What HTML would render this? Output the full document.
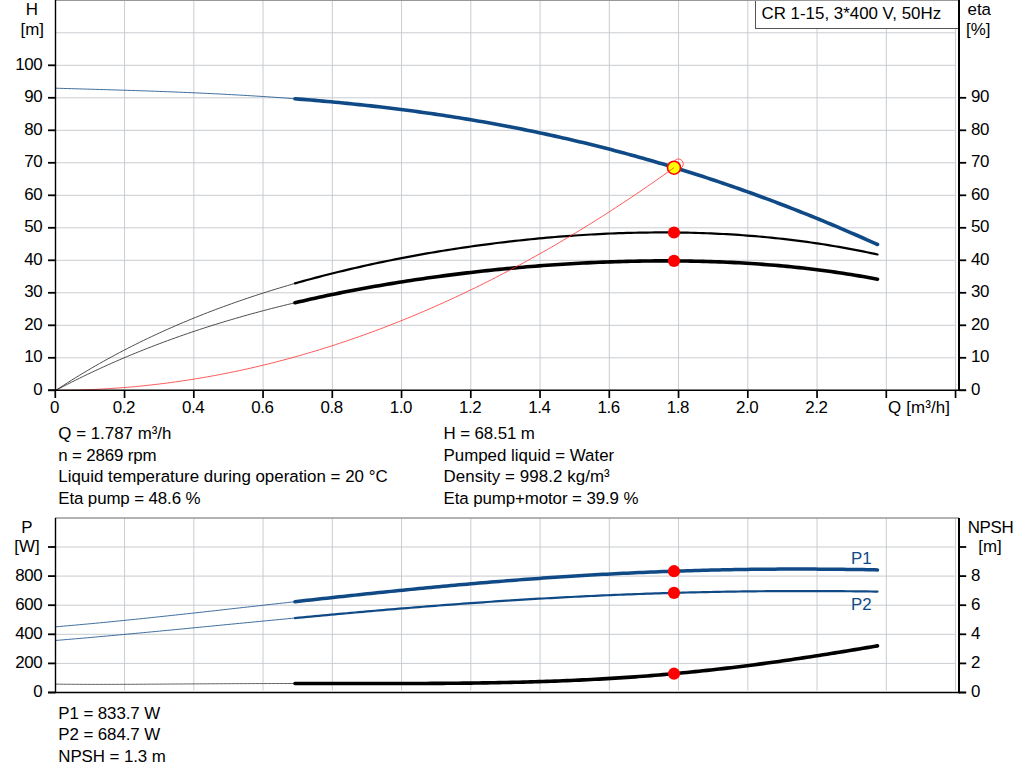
<!DOCTYPE html>
<html><head><meta charset="utf-8"><title>Pump curve</title>
<style>
html,body{margin:0;padding:0;background:#fff;}
body{width:1024px;height:781px;overflow:hidden;font-family:"Liberation Sans",sans-serif;}
svg{display:block;position:absolute;left:0;top:0;}
svg text{font-family:"Liberation Sans",sans-serif;font-size:16.9px;}
svg text.n{letter-spacing:-0.4px;}
</style></head>
<body>
<svg width="1024" height="781" viewBox="0 0 1024 781">
<line x1="124.55" y1="0" x2="124.55" y2="390" stroke="#c9ccd0" stroke-width="1"/>
<line x1="193.8" y1="0" x2="193.8" y2="390" stroke="#c9ccd0" stroke-width="1"/>
<line x1="263.05" y1="0" x2="263.05" y2="390" stroke="#c9ccd0" stroke-width="1"/>
<line x1="332.3" y1="0" x2="332.3" y2="390" stroke="#c9ccd0" stroke-width="1"/>
<line x1="401.55" y1="0" x2="401.55" y2="390" stroke="#c9ccd0" stroke-width="1"/>
<line x1="470.8" y1="0" x2="470.8" y2="390" stroke="#c9ccd0" stroke-width="1"/>
<line x1="540.05" y1="0" x2="540.05" y2="390" stroke="#c9ccd0" stroke-width="1"/>
<line x1="609.3" y1="0" x2="609.3" y2="390" stroke="#c9ccd0" stroke-width="1"/>
<line x1="678.55" y1="0" x2="678.55" y2="390" stroke="#c9ccd0" stroke-width="1"/>
<line x1="747.8" y1="0" x2="747.8" y2="390" stroke="#c9ccd0" stroke-width="1"/>
<line x1="817.05" y1="0" x2="817.05" y2="390" stroke="#c9ccd0" stroke-width="1"/>
<line x1="886.3" y1="0" x2="886.3" y2="390" stroke="#c9ccd0" stroke-width="1"/>
<line x1="955.55" y1="0" x2="955.55" y2="390" stroke="#c9ccd0" stroke-width="1"/>
<line x1="56" y1="357.8" x2="956" y2="357.8" stroke="#c9ccd0" stroke-width="1"/>
<line x1="56" y1="325.3" x2="956" y2="325.3" stroke="#c9ccd0" stroke-width="1"/>
<line x1="56" y1="292.8" x2="956" y2="292.8" stroke="#c9ccd0" stroke-width="1"/>
<line x1="56" y1="260.3" x2="956" y2="260.3" stroke="#c9ccd0" stroke-width="1"/>
<line x1="56" y1="227.8" x2="956" y2="227.8" stroke="#c9ccd0" stroke-width="1"/>
<line x1="56" y1="195.3" x2="956" y2="195.3" stroke="#c9ccd0" stroke-width="1"/>
<line x1="56" y1="162.8" x2="956" y2="162.8" stroke="#c9ccd0" stroke-width="1"/>
<line x1="56" y1="130.3" x2="956" y2="130.3" stroke="#c9ccd0" stroke-width="1"/>
<line x1="56" y1="97.8" x2="956" y2="97.8" stroke="#c9ccd0" stroke-width="1"/>
<line x1="56" y1="65.3" x2="956" y2="65.3" stroke="#c9ccd0" stroke-width="1"/>
<line x1="56" y1="32.8" x2="956" y2="32.8" stroke="#c9ccd0" stroke-width="1"/>
<path d="M55.3 88.20 L59.3 88.31 L63.3 88.43 L67.3 88.54 L71.3 88.65 L75.3 88.77 L79.3 88.88 L83.3 89.00 L87.3 89.11 L91.3 89.23 L95.3 89.35 L99.3 89.46 L103.3 89.58 L107.3 89.70 L111.3 89.82 L115.3 89.94 L119.3 90.07 L123.3 90.19 L127.3 90.32 L131.3 90.45 L135.3 90.58 L139.3 90.71 L143.3 90.84 L147.3 90.98 L151.3 91.12 L155.3 91.26 L159.3 91.41 L163.3 91.56 L167.3 91.71 L171.3 91.86 L175.3 92.02 L179.3 92.18 L183.3 92.35 L187.3 92.51 L191.3 92.69 L195.3 92.86 L199.3 93.04 L203.3 93.22 L207.3 93.41 L211.3 93.60 L215.3 93.80 L219.3 94.00 L223.3 94.20 L227.3 94.41 L231.3 94.63 L235.3 94.85 L239.3 95.07 L243.3 95.30 L247.3 95.54 L251.3 95.78 L255.3 96.02 L259.3 96.27 L263.3 96.53 L267.3 96.79 L271.3 97.06 L275.3 97.34 L279.3 97.62 L283.3 97.90 L287.3 98.20 L291.3 98.49 L295.0 98.78" fill="none" stroke="#104a86" stroke-width="0.8"/>
<path d="M295.0 98.78 L299.0 99.09 L303.0 99.41 L307.0 99.73 L311.0 100.06 L315.0 100.40 L319.0 100.75 L323.0 101.10 L327.0 101.46 L331.0 101.82 L335.0 102.20 L339.0 102.58 L343.0 102.97 L347.0 103.36 L351.0 103.77 L355.0 104.18 L359.0 104.60 L363.0 105.02 L367.0 105.46 L371.0 105.90 L375.0 106.35 L379.0 106.81 L383.0 107.28 L387.0 107.76 L391.0 108.24 L395.0 108.73 L399.0 109.23 L403.0 109.74 L407.0 110.26 L411.0 110.79 L415.0 111.33 L419.0 111.87 L423.0 112.43 L427.0 112.99 L431.0 113.56 L435.0 114.14 L439.0 114.73 L443.0 115.33 L447.0 115.94 L451.0 116.56 L455.0 117.19 L459.0 117.83 L463.0 118.47 L467.0 119.13 L471.0 119.80 L475.0 120.47 L479.0 121.16 L483.0 121.85 L487.0 122.56 L491.0 123.27 L495.0 124.00 L499.0 124.74 L503.0 125.48 L507.0 126.24 L511.0 127.00 L515.0 127.78 L519.0 128.57 L523.0 129.37 L527.0 130.17 L531.0 130.99 L535.0 131.82 L539.0 132.66 L543.0 133.51 L547.0 134.37 L551.0 135.24 L555.0 136.12 L559.0 137.02 L563.0 137.92 L567.0 138.83 L571.0 139.76 L575.0 140.69 L579.0 141.64 L583.0 142.60 L587.0 143.57 L591.0 144.55 L595.0 145.54 L599.0 146.54 L603.0 147.55 L607.0 148.58 L611.0 149.61 L615.0 150.66 L619.0 151.72 L623.0 152.79 L627.0 153.87 L631.0 154.96 L635.0 156.06 L639.0 157.18 L643.0 158.30 L647.0 159.44 L651.0 160.59 L655.0 161.75 L659.0 162.92 L663.0 164.10 L667.0 165.30 L671.0 166.50 L675.0 167.72 L679.0 168.95 L683.0 170.19 L687.0 171.44 L691.0 172.71 L695.0 173.98 L699.0 175.27 L703.0 176.57 L707.0 177.88 L711.0 179.20 L715.0 180.53 L719.0 181.88 L723.0 183.23 L727.0 184.60 L731.0 185.98 L735.0 187.37 L739.0 188.78 L743.0 190.19 L747.0 191.62 L751.0 193.06 L755.0 194.51 L759.0 195.97 L763.0 197.44 L767.0 198.93 L771.0 200.42 L775.0 201.93 L779.0 203.45 L783.0 204.98 L787.0 206.52 L791.0 208.08 L795.0 209.64 L799.0 211.22 L803.0 212.81 L807.0 214.41 L811.0 216.02 L815.0 217.65 L819.0 219.28 L823.0 220.93 L827.0 222.59 L831.0 224.26 L835.0 225.94 L839.0 227.63 L843.0 229.34 L847.0 231.05 L851.0 232.78 L855.0 234.52 L859.0 236.26 L863.0 238.02 L867.0 239.80 L871.0 241.58 L875.0 243.37 L877.5 244.50" fill="none" stroke="#104a86" stroke-width="3.6" stroke-linecap="round"/>
<path d="M55.3 390.66 L59.3 388.03 L63.3 385.44 L67.3 382.88 L71.3 380.35 L75.3 377.87 L79.3 375.41 L83.3 373.00 L87.3 370.61 L91.3 368.26 L95.3 365.95 L99.3 363.66 L103.3 361.41 L107.3 359.19 L111.3 357.00 L115.3 354.84 L119.3 352.71 L123.3 350.62 L127.3 348.55 L131.3 346.51 L135.3 344.50 L139.3 342.51 L143.3 340.56 L147.3 338.63 L151.3 336.73 L155.3 334.86 L159.3 333.01 L163.3 331.19 L167.3 329.39 L171.3 327.62 L175.3 325.87 L179.3 324.15 L183.3 322.45 L187.3 320.77 L191.3 319.12 L195.3 317.49 L199.3 315.89 L203.3 314.30 L207.3 312.74 L211.3 311.20 L215.3 309.68 L219.3 308.18 L223.3 306.70 L227.3 305.25 L231.3 303.81 L235.3 302.39 L239.3 300.99 L243.3 299.62 L247.3 298.26 L251.3 296.92 L255.3 295.59 L259.3 294.29 L263.3 293.00 L267.3 291.74 L271.3 290.48 L275.3 289.25 L279.3 288.04 L283.3 286.84 L287.3 285.65 L291.3 284.49 L295.0 283.42" fill="none" stroke="#222" stroke-width="0.8"/>
<path d="M295.0 283.42 L299.0 282.29 L303.0 281.17 L307.0 280.06 L311.0 278.98 L315.0 277.90 L319.0 276.85 L323.0 275.80 L327.0 274.77 L331.0 273.76 L335.0 272.76 L339.0 271.78 L343.0 270.81 L347.0 269.85 L351.0 268.91 L355.0 267.98 L359.0 267.06 L363.0 266.16 L367.0 265.27 L371.0 264.39 L375.0 263.53 L379.0 262.68 L383.0 261.84 L387.0 261.02 L391.0 260.21 L395.0 259.41 L399.0 258.62 L403.0 257.84 L407.0 257.08 L411.0 256.33 L415.0 255.59 L419.0 254.87 L423.0 254.15 L427.0 253.45 L431.0 252.76 L435.0 252.08 L439.0 251.41 L443.0 250.76 L447.0 250.11 L451.0 249.48 L455.0 248.86 L459.0 248.25 L463.0 247.65 L467.0 247.07 L471.0 246.49 L475.0 245.93 L479.0 245.38 L483.0 244.83 L487.0 244.30 L491.0 243.79 L495.0 243.28 L499.0 242.78 L503.0 242.30 L507.0 241.82 L511.0 241.36 L515.0 240.91 L519.0 240.47 L523.0 240.04 L527.0 239.62 L531.0 239.22 L535.0 238.82 L539.0 238.44 L543.0 238.07 L547.0 237.71 L551.0 237.36 L555.0 237.02 L559.0 236.70 L563.0 236.38 L567.0 236.08 L571.0 235.79 L575.0 235.51 L579.0 235.24 L583.0 234.98 L587.0 234.74 L591.0 234.51 L595.0 234.29 L599.0 234.08 L603.0 233.88 L607.0 233.70 L611.0 233.52 L615.0 233.36 L619.0 233.22 L623.0 233.08 L627.0 232.96 L631.0 232.85 L635.0 232.75 L639.0 232.67 L643.0 232.59 L647.0 232.54 L651.0 232.49 L655.0 232.46 L659.0 232.44 L663.0 232.43 L667.0 232.44 L671.0 232.46 L675.0 232.49 L679.0 232.54 L683.0 232.60 L687.0 232.67 L691.0 232.76 L695.0 232.87 L699.0 232.98 L703.0 233.11 L707.0 233.26 L711.0 233.42 L715.0 233.60 L719.0 233.78 L723.0 233.99 L727.0 234.21 L731.0 234.44 L735.0 234.69 L739.0 234.96 L743.0 235.24 L747.0 235.53 L751.0 235.84 L755.0 236.17 L759.0 236.51 L763.0 236.87 L767.0 237.25 L771.0 237.64 L775.0 238.04 L779.0 238.47 L783.0 238.91 L787.0 239.37 L791.0 239.84 L795.0 240.33 L799.0 240.84 L803.0 241.37 L807.0 241.91 L811.0 242.47 L815.0 243.05 L819.0 243.65 L823.0 244.26 L827.0 244.89 L831.0 245.54 L835.0 246.21 L839.0 246.90 L843.0 247.60 L847.0 248.33 L851.0 249.07 L855.0 249.83 L859.0 250.62 L863.0 251.42 L867.0 252.24 L871.0 253.08 L875.0 253.94 L877.5 254.48" fill="none" stroke="#000" stroke-width="2.2" stroke-linecap="round"/>
<path d="M55.3 390.61 L59.3 388.50 L63.3 386.41 L67.3 384.35 L71.3 382.31 L75.3 380.31 L79.3 378.33 L83.3 376.37 L87.3 374.44 L91.3 372.54 L95.3 370.66 L99.3 368.80 L103.3 366.97 L107.3 365.16 L111.3 363.38 L115.3 361.62 L119.3 359.88 L123.3 358.17 L127.3 356.48 L131.3 354.81 L135.3 353.17 L139.3 351.54 L143.3 349.94 L147.3 348.36 L151.3 346.80 L155.3 345.26 L159.3 343.74 L163.3 342.24 L167.3 340.76 L171.3 339.30 L175.3 337.86 L179.3 336.44 L183.3 335.04 L187.3 333.66 L191.3 332.29 L195.3 330.95 L199.3 329.62 L203.3 328.31 L207.3 327.02 L211.3 325.74 L215.3 324.49 L219.3 323.25 L223.3 322.03 L227.3 320.82 L231.3 319.63 L235.3 318.46 L239.3 317.30 L243.3 316.16 L247.3 315.03 L251.3 313.92 L255.3 312.83 L259.3 311.75 L263.3 310.68 L267.3 309.63 L271.3 308.60 L275.3 307.58 L279.3 306.57 L283.3 305.58 L287.3 304.60 L291.3 303.63 L295.0 302.75" fill="none" stroke="#222" stroke-width="0.8"/>
<path d="M295.0 302.75 L299.0 301.81 L303.0 300.89 L307.0 299.97 L311.0 299.07 L315.0 298.19 L319.0 297.31 L323.0 296.45 L327.0 295.60 L331.0 294.77 L335.0 293.94 L339.0 293.13 L343.0 292.33 L347.0 291.54 L351.0 290.77 L355.0 290.00 L359.0 289.25 L363.0 288.50 L367.0 287.77 L371.0 287.05 L375.0 286.34 L379.0 285.65 L383.0 284.96 L387.0 284.28 L391.0 283.62 L395.0 282.96 L399.0 282.32 L403.0 281.68 L407.0 281.06 L411.0 280.44 L415.0 279.84 L419.0 279.25 L423.0 278.66 L427.0 278.09 L431.0 277.53 L435.0 276.97 L439.0 276.43 L443.0 275.89 L447.0 275.37 L451.0 274.85 L455.0 274.35 L459.0 273.85 L463.0 273.36 L467.0 272.89 L471.0 272.42 L475.0 271.96 L479.0 271.51 L483.0 271.07 L487.0 270.64 L491.0 270.22 L495.0 269.80 L499.0 269.40 L503.0 269.01 L507.0 268.62 L511.0 268.25 L515.0 267.88 L519.0 267.52 L523.0 267.17 L527.0 266.83 L531.0 266.50 L535.0 266.18 L539.0 265.87 L543.0 265.57 L547.0 265.27 L551.0 264.99 L555.0 264.71 L559.0 264.45 L563.0 264.19 L567.0 263.94 L571.0 263.70 L575.0 263.47 L579.0 263.25 L583.0 263.04 L587.0 262.84 L591.0 262.65 L595.0 262.47 L599.0 262.30 L603.0 262.13 L607.0 261.98 L611.0 261.84 L615.0 261.70 L619.0 261.58 L623.0 261.46 L627.0 261.36 L631.0 261.27 L635.0 261.18 L639.0 261.11 L643.0 261.04 L647.0 260.99 L651.0 260.95 L655.0 260.92 L659.0 260.89 L663.0 260.88 L667.0 260.88 L671.0 260.89 L675.0 260.91 L679.0 260.94 L683.0 260.99 L687.0 261.04 L691.0 261.11 L695.0 261.18 L699.0 261.27 L703.0 261.37 L707.0 261.49 L711.0 261.61 L715.0 261.75 L719.0 261.89 L723.0 262.05 L727.0 262.23 L731.0 262.41 L735.0 262.61 L739.0 262.82 L743.0 263.04 L747.0 263.28 L751.0 263.53 L755.0 263.79 L759.0 264.07 L763.0 264.36 L767.0 264.67 L771.0 264.98 L775.0 265.32 L779.0 265.66 L783.0 266.03 L787.0 266.40 L791.0 266.79 L795.0 267.20 L799.0 267.62 L803.0 268.05 L807.0 268.51 L811.0 268.97 L815.0 269.46 L819.0 269.96 L823.0 270.47 L827.0 271.00 L831.0 271.55 L835.0 272.12 L839.0 272.70 L843.0 273.30 L847.0 273.92 L851.0 274.55 L855.0 275.20 L859.0 275.88 L863.0 276.56 L867.0 277.27 L871.0 278.00 L875.0 278.74 L877.5 279.22" fill="none" stroke="#000" stroke-width="3.6" stroke-linecap="round"/>
<circle cx="678.4" cy="163.9" r="4.9" fill="none" stroke="#ff3030" stroke-width="0.8"/>
<circle cx="674.0" cy="167.7" r="6.5" fill="#ffff00" stroke="#ff0000" stroke-width="1.6"/>
<circle cx="674.0" cy="232.5" r="6.1" fill="#ff0000"/>
<circle cx="674.0" cy="260.9" r="6.1" fill="#ff0000"/>
<path d="M55.3 390.30 L59.3 390.29 L63.3 390.26 L67.3 390.22 L71.3 390.15 L75.3 390.07 L79.3 389.97 L83.3 389.84 L87.3 389.70 L91.3 389.55 L95.3 389.37 L99.3 389.17 L103.3 388.96 L107.3 388.73 L111.3 388.48 L115.3 388.21 L119.3 387.92 L123.3 387.61 L127.3 387.29 L131.3 386.94 L135.3 386.58 L139.3 386.20 L143.3 385.80 L147.3 385.38 L151.3 384.94 L155.3 384.48 L159.3 384.01 L163.3 383.52 L167.3 383.00 L171.3 382.47 L175.3 381.93 L179.3 381.36 L183.3 380.77 L187.3 380.17 L191.3 379.54 L195.3 378.90 L199.3 378.24 L203.3 377.56 L207.3 376.86 L211.3 376.15 L215.3 375.41 L219.3 374.66 L223.3 373.89 L227.3 373.09 L231.3 372.29 L235.3 371.46 L239.3 370.61 L243.3 369.74 L247.3 368.86 L251.3 367.96 L255.3 367.04 L259.3 366.10 L263.3 365.14 L267.3 364.16 L271.3 363.17 L275.3 362.15 L279.3 361.12 L283.3 360.07 L287.3 359.00 L291.3 357.91 L295.3 356.80 L299.3 355.68 L303.3 354.53 L307.3 353.37 L311.3 352.19 L315.3 350.99 L319.3 349.77 L323.3 348.53 L327.3 347.27 L331.3 346.00 L335.3 344.70 L339.3 343.39 L343.3 342.06 L347.3 340.71 L351.3 339.34 L355.3 337.96 L359.3 336.55 L363.3 335.13 L367.3 333.69 L371.3 332.23 L375.3 330.75 L379.3 329.25 L383.3 327.73 L387.3 326.20 L391.3 324.64 L395.3 323.07 L399.3 321.48 L403.3 319.87 L407.3 318.24 L411.3 316.59 L415.3 314.93 L419.3 313.24 L423.3 311.54 L427.3 309.82 L431.3 308.08 L435.3 306.32 L439.3 304.54 L443.3 302.75 L447.3 300.93 L451.3 299.10 L455.3 297.25 L459.3 295.38 L463.3 293.49 L467.3 291.58 L471.3 289.65 L475.3 287.71 L479.3 285.75 L483.3 283.76 L487.3 281.76 L491.3 279.74 L495.3 277.71 L499.3 275.65 L503.3 273.57 L507.3 271.48 L511.3 269.37 L515.3 267.24 L519.3 265.09 L523.3 262.92 L527.3 260.73 L531.3 258.53 L535.3 256.30 L539.3 254.06 L543.3 251.80 L547.3 249.52 L551.3 247.22 L555.3 244.91 L559.3 242.57 L563.3 240.22 L567.3 237.84 L571.3 235.45 L575.3 233.04 L579.3 230.61 L583.3 228.17 L587.3 225.70 L591.3 223.21 L595.3 220.71 L599.3 218.19 L603.3 215.65 L607.3 213.09 L611.3 210.51 L615.3 207.92 L619.3 205.30 L623.3 202.67 L627.3 200.02 L631.3 197.35 L635.3 194.66 L639.3 191.95 L643.3 189.22 L647.3 186.48 L651.3 183.71 L655.3 180.93 L659.3 178.13 L663.3 175.31 L667.3 172.47 L671.3 169.62 L674.0 167.64" fill="none" stroke="#ff3030" stroke-width="0.8"/>
<rect x="755.5" y="-1" width="203" height="29.5" fill="#fff" stroke="#555" stroke-width="1"/>
<line x1="55" y1="0.5" x2="959" y2="0.5" stroke="#999" stroke-width="1"/>
<line x1="55.5" y1="0" x2="55.5" y2="391" stroke="#000" stroke-width="1.4"/>
<line x1="959" y1="0" x2="959" y2="391" stroke="#000" stroke-width="2"/>
<line x1="48" y1="390.3" x2="966" y2="390.3" stroke="#000" stroke-width="1.4"/>
<line x1="48" y1="390.3" x2="55" y2="390.3" stroke="#000" stroke-width="1.8"/>
<line x1="48" y1="357.8" x2="55" y2="357.8" stroke="#000" stroke-width="1.8"/>
<line x1="48" y1="325.3" x2="55" y2="325.3" stroke="#000" stroke-width="1.8"/>
<line x1="48" y1="292.8" x2="55" y2="292.8" stroke="#000" stroke-width="1.8"/>
<line x1="48" y1="260.3" x2="55" y2="260.3" stroke="#000" stroke-width="1.8"/>
<line x1="48" y1="227.8" x2="55" y2="227.8" stroke="#000" stroke-width="1.8"/>
<line x1="48" y1="195.3" x2="55" y2="195.3" stroke="#000" stroke-width="1.8"/>
<line x1="48" y1="162.8" x2="55" y2="162.8" stroke="#000" stroke-width="1.8"/>
<line x1="48" y1="130.3" x2="55" y2="130.3" stroke="#000" stroke-width="1.8"/>
<line x1="48" y1="97.8" x2="55" y2="97.8" stroke="#000" stroke-width="1.8"/>
<line x1="48" y1="65.3" x2="55" y2="65.3" stroke="#000" stroke-width="1.8"/>
<line x1="959" y1="390.3" x2="966.2" y2="390.3" stroke="#000" stroke-width="1.8"/>
<line x1="959" y1="357.8" x2="966.2" y2="357.8" stroke="#000" stroke-width="1.8"/>
<line x1="959" y1="325.3" x2="966.2" y2="325.3" stroke="#000" stroke-width="1.8"/>
<line x1="959" y1="292.8" x2="966.2" y2="292.8" stroke="#000" stroke-width="1.8"/>
<line x1="959" y1="260.3" x2="966.2" y2="260.3" stroke="#000" stroke-width="1.8"/>
<line x1="959" y1="227.8" x2="966.2" y2="227.8" stroke="#000" stroke-width="1.8"/>
<line x1="959" y1="195.3" x2="966.2" y2="195.3" stroke="#000" stroke-width="1.8"/>
<line x1="959" y1="162.8" x2="966.2" y2="162.8" stroke="#000" stroke-width="1.8"/>
<line x1="959" y1="130.3" x2="966.2" y2="130.3" stroke="#000" stroke-width="1.8"/>
<line x1="959" y1="97.8" x2="966.2" y2="97.8" stroke="#000" stroke-width="1.8"/>
<line x1="55.3" y1="390" x2="55.3" y2="398" stroke="#000" stroke-width="1.7"/>
<line x1="124.55" y1="390" x2="124.55" y2="398" stroke="#000" stroke-width="1.7"/>
<line x1="193.8" y1="390" x2="193.8" y2="398" stroke="#000" stroke-width="1.7"/>
<line x1="263.05" y1="390" x2="263.05" y2="398" stroke="#000" stroke-width="1.7"/>
<line x1="332.3" y1="390" x2="332.3" y2="398" stroke="#000" stroke-width="1.7"/>
<line x1="401.55" y1="390" x2="401.55" y2="398" stroke="#000" stroke-width="1.7"/>
<line x1="470.8" y1="390" x2="470.8" y2="398" stroke="#000" stroke-width="1.7"/>
<line x1="540.05" y1="390" x2="540.05" y2="398" stroke="#000" stroke-width="1.7"/>
<line x1="609.3" y1="390" x2="609.3" y2="398" stroke="#000" stroke-width="1.7"/>
<line x1="678.55" y1="390" x2="678.55" y2="398" stroke="#000" stroke-width="1.7"/>
<line x1="747.8" y1="390" x2="747.8" y2="398" stroke="#000" stroke-width="1.7"/>
<line x1="817.05" y1="390" x2="817.05" y2="398" stroke="#000" stroke-width="1.7"/>
<line x1="886.3" y1="390" x2="886.3" y2="398" stroke="#000" stroke-width="1.7"/>
<line x1="955.55" y1="390" x2="955.55" y2="398" stroke="#000" stroke-width="1.7"/>
<line x1="124.55" y1="518" x2="124.55" y2="690.5" stroke="#c9ccd0" stroke-width="1"/>
<line x1="193.8" y1="518" x2="193.8" y2="690.5" stroke="#c9ccd0" stroke-width="1"/>
<line x1="263.05" y1="518" x2="263.05" y2="690.5" stroke="#c9ccd0" stroke-width="1"/>
<line x1="332.3" y1="518" x2="332.3" y2="690.5" stroke="#c9ccd0" stroke-width="1"/>
<line x1="401.55" y1="518" x2="401.55" y2="690.5" stroke="#c9ccd0" stroke-width="1"/>
<line x1="470.8" y1="518" x2="470.8" y2="690.5" stroke="#c9ccd0" stroke-width="1"/>
<line x1="540.05" y1="518" x2="540.05" y2="690.5" stroke="#c9ccd0" stroke-width="1"/>
<line x1="609.3" y1="518" x2="609.3" y2="690.5" stroke="#c9ccd0" stroke-width="1"/>
<line x1="678.55" y1="518" x2="678.55" y2="690.5" stroke="#c9ccd0" stroke-width="1"/>
<line x1="747.8" y1="518" x2="747.8" y2="690.5" stroke="#c9ccd0" stroke-width="1"/>
<line x1="817.05" y1="518" x2="817.05" y2="690.5" stroke="#c9ccd0" stroke-width="1"/>
<line x1="886.3" y1="518" x2="886.3" y2="690.5" stroke="#c9ccd0" stroke-width="1"/>
<line x1="955.55" y1="518" x2="955.55" y2="690.5" stroke="#c9ccd0" stroke-width="1"/>
<line x1="56" y1="663.4" x2="956" y2="663.4" stroke="#c9ccd0" stroke-width="1"/>
<line x1="56" y1="634.3" x2="956" y2="634.3" stroke="#c9ccd0" stroke-width="1"/>
<line x1="56" y1="605.2" x2="956" y2="605.2" stroke="#c9ccd0" stroke-width="1"/>
<line x1="56" y1="576.1" x2="956" y2="576.1" stroke="#c9ccd0" stroke-width="1"/>
<line x1="56" y1="547.0" x2="956" y2="547.0" stroke="#c9ccd0" stroke-width="1"/>
<line x1="55" y1="518" x2="959" y2="518" stroke="#999" stroke-width="1.4"/>
<path d="M55.3 626.83 L59.3 626.50 L63.3 626.15 L67.3 625.81 L71.3 625.45 L75.3 625.10 L79.3 624.74 L83.3 624.37 L87.3 624.00 L91.3 623.63 L95.3 623.25 L99.3 622.87 L103.3 622.49 L107.3 622.10 L111.3 621.71 L115.3 621.31 L119.3 620.91 L123.3 620.51 L127.3 620.11 L131.3 619.70 L135.3 619.29 L139.3 618.87 L143.3 618.46 L147.3 618.04 L151.3 617.62 L155.3 617.20 L159.3 616.77 L163.3 616.34 L167.3 615.91 L171.3 615.48 L175.3 615.05 L179.3 614.61 L183.3 614.18 L187.3 613.74 L191.3 613.30 L195.3 612.86 L199.3 612.42 L203.3 611.97 L207.3 611.53 L211.3 611.08 L215.3 610.64 L219.3 610.19 L223.3 609.74 L227.3 609.29 L231.3 608.84 L235.3 608.39 L239.3 607.94 L243.3 607.49 L247.3 607.04 L251.3 606.59 L255.3 606.14 L259.3 605.69 L263.3 605.24 L267.3 604.79 L271.3 604.34 L275.3 603.89 L279.3 603.44 L283.3 603.00 L287.3 602.55 L291.3 602.10 L295.0 601.69" fill="none" stroke="#104a86" stroke-width="0.8"/>
<path d="M295.0 601.69 L299.0 601.24 L303.0 600.80 L307.0 600.35 L311.0 599.91 L315.0 599.47 L319.0 599.03 L323.0 598.59 L327.0 598.15 L331.0 597.72 L335.0 597.28 L339.0 596.85 L343.0 596.42 L347.0 595.99 L351.0 595.56 L355.0 595.13 L359.0 594.71 L363.0 594.28 L367.0 593.86 L371.0 593.44 L375.0 593.03 L379.0 592.61 L383.0 592.20 L387.0 591.79 L391.0 591.38 L395.0 590.98 L399.0 590.57 L403.0 590.17 L407.0 589.78 L411.0 589.38 L415.0 588.99 L419.0 588.60 L423.0 588.21 L427.0 587.83 L431.0 587.45 L435.0 587.07 L439.0 586.69 L443.0 586.32 L447.0 585.95 L451.0 585.59 L455.0 585.22 L459.0 584.86 L463.0 584.51 L467.0 584.15 L471.0 583.80 L475.0 583.46 L479.0 583.11 L483.0 582.77 L487.0 582.44 L491.0 582.11 L495.0 581.78 L499.0 581.45 L503.0 581.13 L507.0 580.81 L511.0 580.50 L515.0 580.19 L519.0 579.88 L523.0 579.58 L527.0 579.28 L531.0 578.98 L535.0 578.69 L539.0 578.41 L543.0 578.12 L547.0 577.84 L551.0 577.57 L555.0 577.30 L559.0 577.03 L563.0 576.77 L567.0 576.51 L571.0 576.25 L575.0 576.00 L579.0 575.76 L583.0 575.52 L587.0 575.28 L591.0 575.04 L595.0 574.82 L599.0 574.59 L603.0 574.37 L607.0 574.15 L611.0 573.94 L615.0 573.74 L619.0 573.53 L623.0 573.33 L627.0 573.14 L631.0 572.95 L635.0 572.76 L639.0 572.58 L643.0 572.41 L647.0 572.24 L651.0 572.07 L655.0 571.91 L659.0 571.75 L663.0 571.59 L667.0 571.45 L671.0 571.30 L675.0 571.16 L679.0 571.03 L683.0 570.89 L687.0 570.77 L691.0 570.65 L695.0 570.53 L699.0 570.42 L703.0 570.31 L707.0 570.20 L711.0 570.11 L715.0 570.01 L719.0 569.92 L723.0 569.84 L727.0 569.75 L731.0 569.68 L735.0 569.61 L739.0 569.54 L743.0 569.48 L747.0 569.42 L751.0 569.36 L755.0 569.32 L759.0 569.27 L763.0 569.23 L767.0 569.19 L771.0 569.16 L775.0 569.14 L779.0 569.11 L783.0 569.10 L787.0 569.08 L791.0 569.07 L795.0 569.07 L799.0 569.07 L803.0 569.07 L807.0 569.08 L811.0 569.09 L815.0 569.11 L819.0 569.13 L823.0 569.15 L827.0 569.18 L831.0 569.21 L835.0 569.25 L839.0 569.29 L843.0 569.34 L847.0 569.39 L851.0 569.44 L855.0 569.50 L859.0 569.56 L863.0 569.62 L867.0 569.69 L871.0 569.77 L875.0 569.84 L877.5 569.89" fill="none" stroke="#104a86" stroke-width="3.5" stroke-linecap="round"/>
<path d="M55.3 640.48 L59.3 640.15 L63.3 639.82 L67.3 639.48 L71.3 639.15 L75.3 638.80 L79.3 638.46 L83.3 638.11 L87.3 637.77 L91.3 637.41 L95.3 637.06 L99.3 636.70 L103.3 636.35 L107.3 635.99 L111.3 635.62 L115.3 635.26 L119.3 634.89 L123.3 634.52 L127.3 634.15 L131.3 633.78 L135.3 633.41 L139.3 633.03 L143.3 632.66 L147.3 632.28 L151.3 631.90 L155.3 631.52 L159.3 631.14 L163.3 630.76 L167.3 630.37 L171.3 629.99 L175.3 629.61 L179.3 629.22 L183.3 628.83 L187.3 628.45 L191.3 628.06 L195.3 627.67 L199.3 627.28 L203.3 626.89 L207.3 626.50 L211.3 626.12 L215.3 625.73 L219.3 625.34 L223.3 624.95 L227.3 624.56 L231.3 624.17 L235.3 623.78 L239.3 623.39 L243.3 623.00 L247.3 622.61 L251.3 622.23 L255.3 621.84 L259.3 621.45 L263.3 621.07 L267.3 620.68 L271.3 620.30 L275.3 619.91 L279.3 619.53 L283.3 619.15 L287.3 618.77 L291.3 618.38 L295.0 618.03" fill="none" stroke="#104a86" stroke-width="0.8"/>
<path d="M295.0 618.03 L299.0 617.66 L303.0 617.28 L307.0 616.90 L311.0 616.53 L315.0 616.16 L319.0 615.78 L323.0 615.41 L327.0 615.05 L331.0 614.68 L335.0 614.31 L339.0 613.95 L343.0 613.59 L347.0 613.23 L351.0 612.87 L355.0 612.51 L359.0 612.15 L363.0 611.80 L367.0 611.45 L371.0 611.10 L375.0 610.75 L379.0 610.41 L383.0 610.06 L387.0 609.72 L391.0 609.39 L395.0 609.05 L399.0 608.71 L403.0 608.38 L407.0 608.05 L411.0 607.73 L415.0 607.40 L419.0 607.08 L423.0 606.76 L427.0 606.44 L431.0 606.13 L435.0 605.82 L439.0 605.51 L443.0 605.20 L447.0 604.90 L451.0 604.60 L455.0 604.30 L459.0 604.00 L463.0 603.71 L467.0 603.42 L471.0 603.13 L475.0 602.85 L479.0 602.57 L483.0 602.29 L487.0 602.01 L491.0 601.74 L495.0 601.47 L499.0 601.21 L503.0 600.94 L507.0 600.69 L511.0 600.43 L515.0 600.18 L519.0 599.93 L523.0 599.68 L527.0 599.44 L531.0 599.19 L535.0 598.96 L539.0 598.72 L543.0 598.49 L547.0 598.27 L551.0 598.04 L555.0 597.82 L559.0 597.61 L563.0 597.39 L567.0 597.18 L571.0 596.98 L575.0 596.77 L579.0 596.57 L583.0 596.38 L587.0 596.18 L591.0 595.99 L595.0 595.81 L599.0 595.63 L603.0 595.45 L607.0 595.27 L611.0 595.10 L615.0 594.93 L619.0 594.77 L623.0 594.61 L627.0 594.45 L631.0 594.30 L635.0 594.15 L639.0 594.00 L643.0 593.86 L647.0 593.72 L651.0 593.58 L655.0 593.45 L659.0 593.32 L663.0 593.20 L667.0 593.07 L671.0 592.96 L675.0 592.84 L679.0 592.73 L683.0 592.62 L687.0 592.52 L691.0 592.42 L695.0 592.33 L699.0 592.23 L703.0 592.14 L707.0 592.06 L711.0 591.98 L715.0 591.90 L719.0 591.82 L723.0 591.75 L727.0 591.68 L731.0 591.62 L735.0 591.56 L739.0 591.50 L743.0 591.45 L747.0 591.40 L751.0 591.35 L755.0 591.31 L759.0 591.27 L763.0 591.23 L767.0 591.20 L771.0 591.17 L775.0 591.15 L779.0 591.12 L783.0 591.10 L787.0 591.09 L791.0 591.08 L795.0 591.07 L799.0 591.06 L803.0 591.06 L807.0 591.06 L811.0 591.06 L815.0 591.07 L819.0 591.08 L823.0 591.09 L827.0 591.11 L831.0 591.13 L835.0 591.15 L839.0 591.18 L843.0 591.21 L847.0 591.24 L851.0 591.27 L855.0 591.31 L859.0 591.35 L863.0 591.39 L867.0 591.44 L871.0 591.49 L875.0 591.54 L877.5 591.58" fill="none" stroke="#104a86" stroke-width="2.2" stroke-linecap="round"/>
<path d="M55.3 684.13 L59.3 684.17 L63.3 684.22 L67.3 684.25 L71.3 684.29 L75.3 684.31 L79.3 684.33 L83.3 684.35 L87.3 684.36 L91.3 684.37 L95.3 684.38 L99.3 684.38 L103.3 684.38 L107.3 684.37 L111.3 684.36 L115.3 684.35 L119.3 684.34 L123.3 684.32 L127.3 684.31 L131.3 684.29 L135.3 684.27 L139.3 684.25 L143.3 684.22 L147.3 684.20 L151.3 684.17 L155.3 684.15 L159.3 684.12 L163.3 684.10 L167.3 684.07 L171.3 684.04 L175.3 684.01 L179.3 683.99 L183.3 683.96 L187.3 683.93 L191.3 683.91 L195.3 683.88 L199.3 683.85 L203.3 683.83 L207.3 683.81 L211.3 683.78 L215.3 683.76 L219.3 683.74 L223.3 683.71 L227.3 683.69 L231.3 683.67 L235.3 683.66 L239.3 683.64 L243.3 683.62 L247.3 683.61 L251.3 683.59 L255.3 683.58 L259.3 683.57 L263.3 683.55 L267.3 683.54 L271.3 683.53 L275.3 683.53 L279.3 683.52 L283.3 683.51 L287.3 683.51 L291.3 683.50 L295.0 683.50" fill="none" stroke="#555" stroke-width="0.9"/>
<path d="M295.0 683.50 L299.0 683.50 L303.0 683.49 L307.0 683.49 L311.0 683.49 L315.0 683.49 L319.0 683.49 L323.0 683.49 L327.0 683.49 L331.0 683.50 L335.0 683.50 L339.0 683.50 L343.0 683.50 L347.0 683.51 L351.0 683.51 L355.0 683.51 L359.0 683.51 L363.0 683.51 L367.0 683.52 L371.0 683.52 L375.0 683.52 L379.0 683.52 L383.0 683.52 L387.0 683.51 L391.0 683.51 L395.0 683.51 L399.0 683.50 L403.0 683.50 L407.0 683.49 L411.0 683.48 L415.0 683.47 L419.0 683.46 L423.0 683.44 L427.0 683.43 L431.0 683.41 L435.0 683.39 L439.0 683.36 L443.0 683.34 L447.0 683.31 L451.0 683.28 L455.0 683.25 L459.0 683.21 L463.0 683.17 L467.0 683.13 L471.0 683.08 L475.0 683.03 L479.0 682.98 L483.0 682.92 L487.0 682.86 L491.0 682.79 L495.0 682.72 L499.0 682.65 L503.0 682.57 L507.0 682.49 L511.0 682.40 L515.0 682.31 L519.0 682.22 L523.0 682.11 L527.0 682.01 L531.0 681.90 L535.0 681.78 L539.0 681.66 L543.0 681.53 L547.0 681.40 L551.0 681.26 L555.0 681.11 L559.0 680.96 L563.0 680.80 L567.0 680.64 L571.0 680.47 L575.0 680.30 L579.0 680.11 L583.0 679.92 L587.0 679.73 L591.0 679.52 L595.0 679.32 L599.0 679.10 L603.0 678.88 L607.0 678.64 L611.0 678.41 L615.0 678.16 L619.0 677.91 L623.0 677.65 L627.0 677.38 L631.0 677.11 L635.0 676.83 L639.0 676.54 L643.0 676.24 L647.0 675.93 L651.0 675.62 L655.0 675.30 L659.0 674.97 L663.0 674.63 L667.0 674.29 L671.0 673.93 L675.0 673.57 L679.0 673.20 L683.0 672.83 L687.0 672.44 L691.0 672.05 L695.0 671.65 L699.0 671.24 L703.0 670.82 L707.0 670.39 L711.0 669.96 L715.0 669.52 L719.0 669.07 L723.0 668.61 L727.0 668.15 L731.0 667.67 L735.0 667.19 L739.0 666.70 L743.0 666.21 L747.0 665.70 L751.0 665.19 L755.0 664.67 L759.0 664.15 L763.0 663.61 L767.0 663.07 L771.0 662.52 L775.0 661.97 L779.0 661.41 L783.0 660.84 L787.0 660.26 L791.0 659.68 L795.0 659.09 L799.0 658.50 L803.0 657.90 L807.0 657.29 L811.0 656.68 L815.0 656.06 L819.0 655.44 L823.0 654.81 L827.0 654.18 L831.0 653.54 L835.0 652.90 L839.0 652.25 L843.0 651.60 L847.0 650.95 L851.0 650.29 L855.0 649.63 L859.0 648.96 L863.0 648.30 L867.0 647.63 L871.0 646.96 L875.0 646.28 L877.5 645.86" fill="none" stroke="#000" stroke-width="3.6" stroke-linecap="round"/>
<line x1="55.5" y1="518" x2="55.5" y2="693.2" stroke="#000" stroke-width="1.4"/>
<line x1="959" y1="518" x2="959" y2="693.2" stroke="#000" stroke-width="2"/>
<line x1="48" y1="692.5" x2="966" y2="692.5" stroke="#000" stroke-width="1.4"/>
<line x1="48" y1="692.5" x2="55" y2="692.5" stroke="#000" stroke-width="1.8"/>
<line x1="959" y1="692.5" x2="966.2" y2="692.5" stroke="#000" stroke-width="1.8"/>
<line x1="48" y1="663.4" x2="55" y2="663.4" stroke="#000" stroke-width="1.8"/>
<line x1="959" y1="663.4" x2="966.2" y2="663.4" stroke="#000" stroke-width="1.8"/>
<line x1="48" y1="634.3" x2="55" y2="634.3" stroke="#000" stroke-width="1.8"/>
<line x1="959" y1="634.3" x2="966.2" y2="634.3" stroke="#000" stroke-width="1.8"/>
<line x1="48" y1="605.2" x2="55" y2="605.2" stroke="#000" stroke-width="1.8"/>
<line x1="959" y1="605.2" x2="966.2" y2="605.2" stroke="#000" stroke-width="1.8"/>
<line x1="48" y1="576.1" x2="55" y2="576.1" stroke="#000" stroke-width="1.8"/>
<line x1="959" y1="576.1" x2="966.2" y2="576.1" stroke="#000" stroke-width="1.8"/>
<line x1="48" y1="547.0" x2="55" y2="547.0" stroke="#000" stroke-width="1.8"/>
<line x1="959" y1="547.0" x2="966.2" y2="547.0" stroke="#000" stroke-width="1.8"/>
<circle cx="674.0" cy="571.2" r="6.1" fill="#ff0000"/>
<circle cx="674.0" cy="592.9" r="6.1" fill="#ff0000"/>
<circle cx="674.0" cy="673.7" r="6.1" fill="#ff0000"/>
<text x="31.8" y="15" text-anchor="middle" fill="#000">H</text>
<text x="32.2" y="35" text-anchor="middle" fill="#000">[m]</text>
<text x="42.3" y="394.8" text-anchor="end" fill="#000" class="n">0</text>
<text x="42.3" y="362.3" text-anchor="end" fill="#000" class="n">10</text>
<text x="42.3" y="329.8" text-anchor="end" fill="#000" class="n">20</text>
<text x="42.3" y="297.3" text-anchor="end" fill="#000" class="n">30</text>
<text x="42.3" y="264.8" text-anchor="end" fill="#000" class="n">40</text>
<text x="42.3" y="232.3" text-anchor="end" fill="#000" class="n">50</text>
<text x="42.3" y="199.8" text-anchor="end" fill="#000" class="n">60</text>
<text x="42.3" y="167.3" text-anchor="end" fill="#000" class="n">70</text>
<text x="42.3" y="134.8" text-anchor="end" fill="#000" class="n">80</text>
<text x="42.3" y="102.30000000000001" text-anchor="end" fill="#000" class="n">90</text>
<text x="42.3" y="69.80000000000001" text-anchor="end" fill="#000" class="n">100</text>
<text x="971" y="394.8" text-anchor="start" fill="#000" class="n">0</text>
<text x="971" y="362.3" text-anchor="start" fill="#000" class="n">10</text>
<text x="971" y="329.8" text-anchor="start" fill="#000" class="n">20</text>
<text x="971" y="297.3" text-anchor="start" fill="#000" class="n">30</text>
<text x="971" y="264.8" text-anchor="start" fill="#000" class="n">40</text>
<text x="971" y="232.3" text-anchor="start" fill="#000" class="n">50</text>
<text x="971" y="199.8" text-anchor="start" fill="#000" class="n">60</text>
<text x="971" y="167.3" text-anchor="start" fill="#000" class="n">70</text>
<text x="971" y="134.8" text-anchor="start" fill="#000" class="n">80</text>
<text x="971" y="102.30000000000001" text-anchor="start" fill="#000" class="n">90</text>
<text x="967.5" y="15" text-anchor="start" fill="#000">eta</text>
<text x="966" y="35" text-anchor="start" fill="#000">[%]</text>
<text x="54.599999999999994" y="412.5" text-anchor="middle" fill="#000" class="n">0</text>
<text x="123.85" y="412.5" text-anchor="middle" fill="#000" class="n">0.2</text>
<text x="193.10000000000002" y="412.5" text-anchor="middle" fill="#000" class="n">0.4</text>
<text x="262.35" y="412.5" text-anchor="middle" fill="#000" class="n">0.6</text>
<text x="331.6" y="412.5" text-anchor="middle" fill="#000" class="n">0.8</text>
<text x="400.85" y="412.5" text-anchor="middle" fill="#000" class="n">1.0</text>
<text x="470.1" y="412.5" text-anchor="middle" fill="#000" class="n">1.2</text>
<text x="539.3499999999999" y="412.5" text-anchor="middle" fill="#000" class="n">1.4</text>
<text x="608.5999999999999" y="412.5" text-anchor="middle" fill="#000" class="n">1.6</text>
<text x="677.8499999999999" y="412.5" text-anchor="middle" fill="#000" class="n">1.8</text>
<text x="747.0999999999999" y="412.5" text-anchor="middle" fill="#000" class="n">2.0</text>
<text x="816.3499999999999" y="412.5" text-anchor="middle" fill="#000" class="n">2.2</text>
<text x="888" y="412.5" text-anchor="start" fill="#000" style="letter-spacing:0.15px">Q [m³/h]</text>
<text x="761.5" y="19" text-anchor="start" fill="#000">CR 1-15, 3*400 V, 50Hz</text>
<text x="58.3" y="439.0" text-anchor="start" fill="#000">Q = 1.787 m³/h</text>
<text x="443.5" y="439.0" text-anchor="start" fill="#000" style="letter-spacing:-0.11px">H = 68.51 m</text>
<text x="58.3" y="460.6" text-anchor="start" fill="#000" style="letter-spacing:-0.15px">n = 2869 rpm</text>
<text x="443.5" y="460.6" text-anchor="start" fill="#000">Pumped liquid = Water</text>
<text x="58.3" y="482.2" text-anchor="start" fill="#000">Liquid temperature during operation = 20 °C</text>
<text x="443.5" y="482.2" text-anchor="start" fill="#000" style="letter-spacing:0.07px">Density = 998.2 kg/m³</text>
<text x="58.3" y="503.8" text-anchor="start" fill="#000" style="letter-spacing:-0.12px">Eta pump = 48.6 %</text>
<text x="443.5" y="503.8" text-anchor="start" fill="#000" style="letter-spacing:-0.1px">Eta pump+motor = 39.9 %</text>
<text x="27" y="532.5" text-anchor="middle" fill="#000">P</text>
<text x="27" y="552" text-anchor="middle" fill="#000">[W]</text>
<text x="42.3" y="697.2" text-anchor="end" fill="#000" class="n">0</text>
<text x="971" y="697.2" text-anchor="start" fill="#000" class="n">0</text>
<text x="42.3" y="668.1" text-anchor="end" fill="#000" class="n">200</text>
<text x="971" y="668.1" text-anchor="start" fill="#000" class="n">2</text>
<text x="42.3" y="639.0" text-anchor="end" fill="#000" class="n">400</text>
<text x="971" y="639.0" text-anchor="start" fill="#000" class="n">4</text>
<text x="42.3" y="609.9000000000001" text-anchor="end" fill="#000" class="n">600</text>
<text x="971" y="609.9000000000001" text-anchor="start" fill="#000" class="n">6</text>
<text x="42.3" y="580.8000000000001" text-anchor="end" fill="#000" class="n">800</text>
<text x="971" y="580.8000000000001" text-anchor="start" fill="#000" class="n">8</text>
<text x="990.6" y="533" text-anchor="middle" fill="#000" style="letter-spacing:-0.25px">NPSH</text>
<text x="990" y="552" text-anchor="middle" fill="#000">[m]</text>
<text x="851" y="564" text-anchor="start" fill="#104a86">P1</text>
<text x="851" y="610" text-anchor="start" fill="#104a86">P2</text>
<text x="58.3" y="718.5" text-anchor="start" fill="#000" style="letter-spacing:-0.08px">P1 = 833.7 W</text>
<text x="58.3" y="740.1" text-anchor="start" fill="#000" style="letter-spacing:-0.08px">P2 = 684.7 W</text>
<text x="58.3" y="761.7" text-anchor="start" fill="#000" style="letter-spacing:-0.08px">NPSH = 1.3 m</text>
</svg>
</body></html>
